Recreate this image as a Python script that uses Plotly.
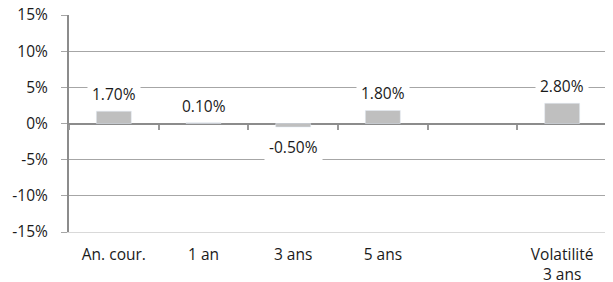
import plotly.graph_objects as go

categories = ["An. cour.", "1 an", "3 ans", "5 ans", " ", "Volatilité<br>3 ans"]
values = [1.70, 0.10, -0.50, 1.80, None, 2.80]
y_ticks = [-15, -10, -5, 0, 5, 10, 15]
y_ticktext = [f"{v}%" for v in y_ticks]

FONT = "Open Sans"
TXT = "#1a1a1a"
FS = 15.5

fig = go.Figure()
fig.add_trace(go.Bar(x=categories, y=values, marker_color="#bfbfbf", width=0.39,
                     hoverinfo="skip", showlegend=False))
fig.add_trace(go.Scatter(x=categories, y=[0]*len(categories), xaxis="x2", mode="markers",
                         marker=dict(opacity=0), showlegend=False, hoverinfo="skip"))

for c, v in zip(categories, values):
    if v is None:
        continue
    fig.add_annotation(x=c, y=v, text=f"{v:.2f}%", showarrow=False,
                       yanchor="middle", yshift=17 if v >= 0 else -20,
                       bgcolor="white", borderpad=4,
                       font=dict(family=FONT, size=FS, color=TXT))

fig.update_layout(
    width=605, height=274,
    margin=dict(l=61, r=6, t=7, b=50),
    paper_bgcolor="white", plot_bgcolor="white",
    font=dict(family=FONT, size=FS, color=TXT),
    xaxis=dict(type="category", categoryorder="array", categoryarray=categories,
               showgrid=False, showline=True, linecolor="#d9d9d9", linewidth=1,
               ticks="", tickfont=dict(size=FS), ticklabelstandoff=8,
               range=[-0.5, 5.5], automargin=False),
    xaxis2=dict(type="category", categoryorder="array", categoryarray=categories,
                overlaying="x", anchor="free", position=0.5, range=[-0.5, 5.5],
                showticklabels=False, ticks="outside", tickson="boundaries", ticklen=5,
                tickcolor="#9a9a9a", tickwidth=1.5, showgrid=False, showline=False,
                automargin=False),
    yaxis=dict(range=[-15, 15], tickvals=y_ticks, ticktext=y_ticktext,
               showgrid=True, gridcolor="#a6a6a6", gridwidth=1,
               zeroline=True, zerolinecolor="#8c8c8c", zerolinewidth=2,
               showline=True, linecolor="#8c8c8c", linewidth=2,
               ticks="outside", ticklen=6, tickcolor="#a6a6a6",
               ticklabelstandoff=10, ticklabeloverflow="allow",
               tickfont=dict(size=FS), automargin=False),
)

fig.write_html("out.html")
